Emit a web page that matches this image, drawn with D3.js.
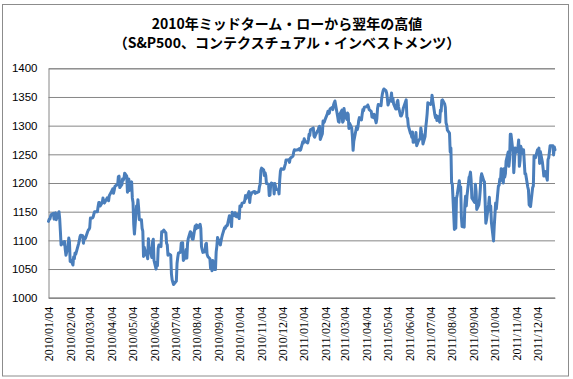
<!DOCTYPE html>
<html><head><meta charset="utf-8">
<script src="https://cdn.jsdelivr.net/npm/d3@7"></script>
<style>
html,body{margin:0;padding:0;background:#fff;}
svg{display:block;}
</style></head>
<body>
<svg id="chart" width="573" height="379"></svg>
<script>
const titleLines = ["2010年ミッドターム・ローから翌年の高値", "（S&P500、コンテクスチュアル・インベストメンツ）"];
const yTicks = [1000, 1050, 1100, 1150, 1200, 1250, 1300, 1350, 1400];
const xTickLabels = ["2010/01/04","2010/02/04","2010/03/04","2010/04/04","2010/05/04","2010/06/04","2010/07/04","2010/08/04","2010/09/04","2010/10/04","2010/11/04","2010/12/04",
  "2011/01/04","2011/02/04","2011/03/04","2011/04/04","2011/05/04","2011/06/04","2011/07/04","2011/08/04","2011/09/04","2011/10/04","2011/11/04","2011/12/04"];

const dates2010 = ["01/04","01/05","01/06","01/07","01/08","01/11","01/12","01/13","01/14","01/15","01/19","01/20","01/21","01/22","01/25","01/26","01/27","01/28","01/29",
"02/01","02/02","02/03","02/04","02/05","02/08","02/09","02/10","02/11","02/12","02/16","02/17","02/18","02/19","02/22","02/23","02/24","02/25","02/26",
"03/01","03/02","03/03","03/04","03/05","03/08","03/09","03/10","03/11","03/12","03/15","03/16","03/17","03/18","03/19","03/22","03/23","03/24","03/25","03/26","03/29","03/30","03/31",
"04/01","04/05","04/06","04/07","04/08","04/09","04/12","04/13","04/14","04/15","04/16","04/19","04/20","04/21","04/22","04/23","04/26","04/27","04/28","04/29","04/30",
"05/03","05/04","05/05","05/06","05/07","05/10","05/11","05/12","05/13","05/14","05/17","05/18","05/19","05/20","05/21","05/24","05/25","05/26","05/27","05/28",
"06/01","06/02","06/03","06/04","06/07","06/08","06/09","06/10","06/11","06/14","06/15","06/16","06/17","06/18","06/21","06/22","06/23","06/24","06/25","06/28","06/29","06/30",
"07/01","07/02","07/06","07/07","07/08","07/09","07/12","07/13","07/14","07/15","07/16","07/19","07/20","07/21","07/22","07/23","07/26","07/27","07/28","07/29","07/30",
"08/02","08/03","08/04","08/05","08/06","08/09","08/10","08/11","08/12","08/13","08/16","08/17","08/18","08/19","08/20","08/23","08/24","08/25","08/26","08/27","08/30","08/31",
"09/01","09/02","09/03","09/07","09/08","09/09","09/10","09/13","09/14","09/15","09/16","09/17","09/20","09/21","09/22","09/23","09/24","09/27","09/28","09/29","09/30",
"10/01","10/04","10/05","10/06","10/07","10/08","10/11","10/12","10/13","10/14","10/15","10/18","10/19","10/20","10/21","10/22","10/25","10/26","10/27","10/28","10/29",
"11/01","11/02","11/03","11/04","11/05","11/08","11/09","11/10","11/11","11/12","11/15","11/16","11/17","11/18","11/19","11/22","11/23","11/24","11/26","11/29","11/30",
"12/01","12/02","12/03","12/06","12/07","12/08","12/09","12/10","12/13","12/14","12/15","12/16","12/17","12/20","12/21","12/22","12/23","12/27","12/28","12/29","12/30","12/31"];
const close2010 = [1133,1137,1137,1142,1145,1147,1137,1146,1148,1136,1150,1138,1116,1092,1097,1093,1098,1084,1074,
1090,1104,1098,1063,1066,1057,1071,1068,1078,1076,1094,1099,1106,1109,1108,1095,1105,1102,1104,
1115,1118,1119,1122,1139,1139,1141,1146,1150,1150,1150,1159,1166,1166,1160,1166,1174,1167,1165,1167,1174,1173,1169,
1178,1187,1190,1182,1187,1194,1197,1197,1211,1212,1192,1197,1207,1205,1208,1217,1212,1184,1191,1207,1187,
1202,1174,1166,1128,1111,1160,1155,1171,1157,1136,1136,1121,1116,1072,1088,1074,1074,1068,1103,1089,
1070,1098,1102,1065,1050,1062,1056,1086,1092,1089,1115,1114,1116,1118,1113,1095,1092,1074,1077,1074,1041,1031,
1027,1023,1029,1060,1070,1078,1079,1095,1096,1096,1065,1071,1084,1069,1094,1103,1115,1114,1106,1102,1102,
1125,1120,1127,1125,1122,1128,1121,1089,1084,1079,1080,1093,1095,1076,1072,1068,1051,1056,1047,1065,1049,1049,
1080,1090,1105,1092,1099,1105,1110,1122,1121,1125,1125,1126,1143,1140,1134,1124,1149,1143,1148,1145,1141,
1146,1138,1160,1160,1159,1165,1166,1170,1178,1173,1176,1185,1166,1178,1180,1183,1185,1185,1182,1184,1183,
1185,1194,1198,1222,1226,1223,1213,1218,1213,1199,1198,1178,1179,1197,1200,1198,1181,1199,1189,1188,1181,
1206,1221,1225,1224,1224,1229,1233,1240,1240,1241,1236,1243,1244,1247,1254,1258,1257,1258,1259,1260,1257,1258];

const dates2011 = ["01/03","01/04","01/05","01/06","01/07","01/10","01/11","01/12","01/13","01/14","01/18","01/19","01/20","01/21","01/24","01/25","01/26","01/27","01/28","01/31",
"02/01","02/02","02/03","02/04","02/07","02/08","02/09","02/10","02/11","02/14","02/15","02/16","02/17","02/18","02/22","02/23","02/24","02/25","02/28",
"03/01","03/02","03/03","03/04","03/07","03/08","03/09","03/10","03/11","03/14","03/15","03/16","03/17","03/18","03/21","03/22","03/23","03/24","03/25","03/28","03/29","03/30","03/31",
"04/01","04/04","04/05","04/06","04/07","04/08","04/11","04/12","04/13","04/14","04/15","04/18","04/19","04/20","04/21","04/25","04/26","04/27","04/28","04/29",
"05/02","05/03","05/04","05/05","05/06","05/09","05/10","05/11","05/12","05/13","05/16","05/17","05/18","05/19","05/20","05/23","05/24","05/25","05/26","05/27","05/31",
"06/01","06/02","06/03","06/06","06/07","06/08","06/09","06/10","06/13","06/14","06/15","06/16","06/17","06/20","06/21","06/22","06/23","06/24","06/27","06/28","06/29","06/30",
"07/01","07/05","07/06","07/07","07/08","07/11","07/12","07/13","07/14","07/15","07/18","07/19","07/20","07/21","07/22","07/25","07/26","07/27","07/28","07/29",
"08/01","08/02","08/03","08/04","08/05","08/08","08/09","08/10","08/11","08/12","08/15","08/16","08/17","08/18","08/19","08/22","08/23","08/24","08/25","08/26","08/29","08/30","08/31",
"09/01","09/02","09/06","09/07","09/08","09/09","09/12","09/13","09/14","09/15","09/16","09/19","09/20","09/21","09/22","09/23","09/26","09/27","09/28","09/29","09/30",
"10/03","10/04","10/05","10/06","10/07","10/10","10/11","10/12","10/13","10/14","10/17","10/18","10/19","10/20","10/21","10/24","10/25","10/26","10/27","10/28","10/31",
"11/01","11/02","11/03","11/04","11/07","11/08","11/09","11/10","11/11","11/14","11/15","11/16","11/17","11/18","11/21","11/22","11/23","11/25","11/28","11/29","11/30",
"12/01","12/02","12/05","12/06","12/07","12/08","12/09","12/12","12/13","12/14","12/15","12/16","12/19","12/20","12/21","12/22","12/23","12/27","12/28","12/29","12/30"];
const close2011 = [1272,1270,1277,1274,1272,1270,1275,1285,1283,1293,1296,1282,1280,1283,1291,1292,1297,1299,1276,1286,
1308,1305,1307,1311,1320,1325,1321,1322,1329,1332,1328,1336,1340,1343,1315,1307,1306,1320,1327,
1306,1308,1330,1321,1311,1322,1320,1295,1304,1296,1281,1257,1273,1279,1298,1293,1298,1309,1314,1310,1320,1328,1326,
1332,1333,1333,1336,1333,1328,1325,1315,1315,1314,1320,1305,1312,1330,1337,1335,1348,1356,1361,1364,
1361,1357,1348,1336,1340,1347,1357,1342,1348,1338,1329,1329,1341,1344,1333,1317,1317,1320,1325,1331,1345,
1315,1313,1300,1287,1285,1280,1289,1271,1272,1288,1265,1268,1272,1278,1296,1288,1283,1268,1281,1297,1308,1321,
1340,1337,1339,1353,1344,1319,1314,1318,1309,1316,1306,1327,1325,1344,1345,1338,1332,1305,1301,1292,
1287,1254,1261,1200,1199,1119,1173,1121,1173,1179,1204,1192,1193,1141,1124,1123,1162,1177,1160,1177,1210,1212,1219,
1204,1174,1166,1198,1186,1154,1162,1172,1188,1209,1216,1204,1202,1167,1130,1136,1163,1175,1152,1160,1131,
1099,1124,1144,1165,1155,1195,1196,1207,1204,1225,1200,1225,1210,1216,1238,1254,1229,1242,1285,1285,1253,
1218,1238,1261,1253,1262,1275,1229,1239,1264,1251,1258,1237,1216,1216,1193,1188,1162,1159,1192,1195,1247,
1244,1244,1258,1258,1261,1234,1255,1236,1225,1212,1215,1220,1205,1241,1244,1254,1265,1265,1249,1263,1258];

const parse = d3.timeParse("%Y/%m/%d");
const data = [];
dates2010.forEach((d, i) => data.push({date: parse("2010/" + d), value: close2010[i]}));
dates2011.forEach((d, i) => data.push({date: parse("2011/" + d), value: close2011[i]}));

const svg = d3.select("#chart");
const plot = {left: 48.5, right: 555, top: 68.3, bottom: 297.7};

// outer border
svg.append("rect").attr("x", 2.5).attr("y", 4.5).attr("width", 566).attr("height", 371.5)
  .attr("fill", "#fff").attr("stroke", "#8c8c8c").attr("stroke-width", 1);

// title
const title = svg.append("text").attr("text-anchor", "middle")
  .attr("font-family", "'Noto Sans CJK JP', 'Noto Sans', sans-serif")
  .attr("font-weight", "bold").attr("font-size", 14).attr("fill", "#000");
title.append("tspan").attr("x", 287).attr("y", 28.5).text(titleLines[0]);
title.append("tspan").attr("x", 287).attr("y", 47.5).text(titleLines[1]);

const x = d3.scaleTime().domain([data[0].date, data[data.length - 1].date]).range([plot.left, plot.right]);
const y = d3.scaleLinear().domain([1000, 1400]).range([plot.bottom, plot.top]);

// gridlines + y axis
const yAxis = d3.axisLeft(y).tickValues(yTicks).tickSize(-(plot.right - plot.left)).tickPadding(11)
  .tickFormat(d3.format("d"));
const gy = svg.append("g").attr("transform", `translate(${plot.left},0)`).call(yAxis);
gy.select(".domain").attr("stroke", "#868686");
gy.selectAll(".tick line").attr("stroke", "#868686").attr("stroke-width", 1);
gy.selectAll(".tick text").attr("font-family", "'Liberation Sans', Arial, sans-serif")
  .attr("font-size", 11.5).attr("fill", "#000");

// x axis
const xTickDates = xTickLabels.map(parse);
const xAxis = d3.axisBottom(x).tickValues(xTickDates).tickSize(0).tickPadding(0)
  .tickFormat((d, i) => xTickLabels[i]);
const gx = svg.append("g").attr("transform", `translate(0,${plot.bottom})`).call(xAxis);
gx.select(".domain").attr("stroke", "#868686");
gx.selectAll(".tick text")
  .attr("font-family", "'Liberation Serif', 'DejaVu Serif', serif")
  .attr("font-size", 12).attr("fill", "#000")
  .attr("text-anchor", "end")
  .attr("transform", "rotate(-90)")
  .attr("x", -9).attr("y", 0).attr("dy", "0.35em");

// line
const line = d3.line().x(d => x(d.date)).y(d => y(d.value));
svg.append("path").datum(data).attr("d", line)
  .attr("fill", "none").attr("stroke", "#4A7EBB").attr("stroke-width", 3)
  .attr("stroke-linejoin", "round").attr("stroke-linecap", "round");
</script>
</body></html>
